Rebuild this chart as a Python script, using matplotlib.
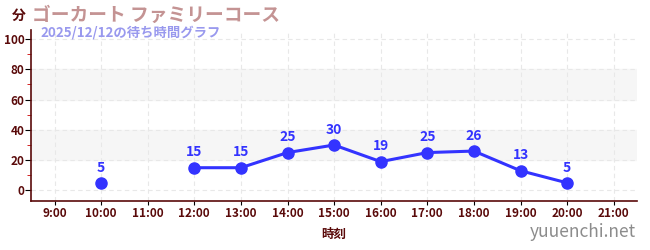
import numpy as np
import matplotlib.pyplot as plt
from matplotlib.ticker import MultipleLocator

plt.rcParams['font.family'] = ['Noto Sans CJK JP', 'DejaVu Sans']

# データ
hours = [9, 10, 11, 12, 13, 14, 15, 16, 17, 18, 19, 20, 21]
hour_labels = [f"{h}:00" for h in hours]
wait_hours = [10, 11, 12, 13, 14, 15, 16, 17, 18, 19, 20]
wait_minutes = [5, np.nan, 15, 15, 25, 30, 19, 25, 26, 13, 5]

title = "ゴーカート ファミリーコース"
subtitle = "2025/12/12の待ち時間グラフ"

line_color = '#3333ff'
axis_color = '#5a0a0a'

fig = plt.figure(figsize=(6.5, 2.5), dpi=100)
ax = fig.add_axes([0.048, 0.196, 0.932, 0.684])

# 背景の帯
for lo, hi in [(20, 40), (60, 80)]:
    ax.axhspan(lo, hi, color='#f6f6f6', zorder=0)

ax.plot(wait_hours, wait_minutes, color=line_color, lw=2.2, marker='o', ms=8, zorder=3)
for h, m in zip(wait_hours, wait_minutes):
    if not np.isnan(m):
        ax.annotate(f"{m:g}", (h, m), xytext=(0, 6), textcoords='offset points',
                    ha='center', va='bottom', color=line_color, fontsize=10, fontweight='bold')

ax.set_xlim(8.5, 21.5)
ax.set_ylim(-7, 106)
ax.set_xticks(hours)
ax.set_xticklabels(hour_labels)
ax.set_yticks(range(0, 101, 20))
ax.yaxis.set_minor_locator(MultipleLocator(10))
ax.tick_params(axis='both', colors='black', labelcolor=axis_color, labelsize=8.5, length=4)
ax.tick_params(axis='x', length=3, pad=1)
ax.tick_params(axis='y', pad=1)
ax.tick_params(axis='y', which='minor', colors='#cc0000', length=3)
for lab in ax.get_xticklabels() + ax.get_yticklabels():
    lab.set_fontweight('bold')

ax.grid(True, color='#e8e8e8', ls=(0, (4, 3)), lw=0.8)
ax.set_axisbelow(True)
for s in ['top', 'right']:
    ax.spines[s].set_visible(False)
for s in ['left', 'bottom']:
    ax.spines[s].set_color(axis_color)
    ax.spines[s].set_linewidth(1.2)

ax.set_xlabel("時刻", color=axis_color, fontsize=9, fontweight='bold', labelpad=6)

fig.text(0.018, 0.935, "分", color=axis_color, fontsize=10, fontweight='bold', va='center')
fig.text(0.05, 0.94, title, color='#c49393', fontsize=13.5, fontweight='bold', va='center')
fig.text(0.062, 0.87, subtitle, color='#9999ee', fontsize=9.6, fontweight='bold', va='center')
fig.text(0.978, 0.072, "yuuenchi.net", color='#8c8c8c', fontsize=12.5, ha='right', va='center')

fig.savefig('out.png')
